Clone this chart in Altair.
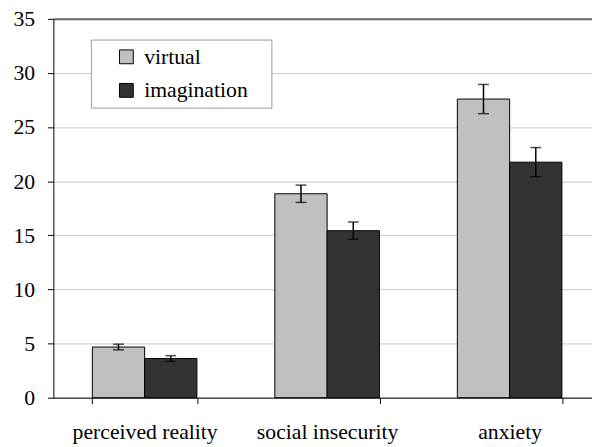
import altair as alt
import pandas as pd

categories = ["perceived reality", "social insecurity", "anxiety"]
groups = ["virtual", "imagination"]
virtual = [4.68, 18.84, 27.59]
imagination = [3.62, 15.43, 21.76]
virtual_err = [0.26, 0.80, 1.35]
imagination_err = [0.26, 0.80, 1.35]
colors = ["#c0c0c0", "#333333"]
y_ticks = [0, 5, 10, 15, 20, 25, 30, 35]

rows = []
for i, c in enumerate(categories):
    rows.append({"category": c, "group": "virtual", "value": virtual[i],
                 "lo": virtual[i] - virtual_err[i], "hi": virtual[i] + virtual_err[i]})
    rows.append({"category": c, "group": "imagination", "value": imagination[i],
                 "lo": imagination[i] - imagination_err[i], "hi": imagination[i] + imagination_err[i]})
df = pd.DataFrame(rows)

FONT = "'Liberation Serif', 'DejaVu Serif', serif"

x_enc = alt.X("category:N", sort=categories, title=None,
              scale=alt.Scale(range=[0, 555], paddingInner=0.427, paddingOuter=0.2135),
              axis=alt.Axis(labelAngle=0, tickBand="extent", tickSize=6, tickColor="black",
                            domainColor="black", labelFontSize=22, labelFont=FONT,
                            labelColor="black", labelBaseline="alphabetic", labelPadding=35,
                            grid=False))
xoff = alt.XOffset("group:N", sort=groups, scale=alt.Scale(paddingInner=0, paddingOuter=0))

y_scale = alt.Scale(domain=[0, 35], nice=False)
y_axis = alt.Axis(values=y_ticks, title=None, tickSize=6, tickColor="black", domainColor="black",
                  labelFontSize=22, labelFont=FONT, labelColor="black", labelPadding=13,
                  grid=True,
                  gridColor={"condition": {"test": "datum.value === 35", "value": "#666666"}, "value": "#c8c8c8"},
                  gridWidth={"condition": {"test": "datum.value === 35", "value": 2}, "value": 1})

base = alt.Chart(df)

bars = base.mark_bar(stroke="black", strokeWidth=1).encode(
    x=x_enc,
    xOffset=xoff,
    y=alt.Y("value:Q", scale=y_scale, axis=y_axis),
    color=alt.Color("group:N", sort=groups,
                    scale=alt.Scale(domain=groups, range=colors),
                    legend=alt.Legend(title="ii", titleOrient="right", titlePadding=4,
                                      titleFontSize=22, titleFont=FONT,
                                      titleColor="rgba(0,0,0,0)",
                                      orient="none", legendX=38, legendY=21,
                                      symbolType="square", symbolSize=196,
                                      symbolStrokeColor="black", symbolStrokeWidth=1,
                                      labelFontSize=22, labelFont=FONT, labelColor="black",
                                      labelOffset=7, rowPadding=12, padding=6.5,
                                      symbolOffset=18.5,
                                      strokeColor="#999999", fillColor="white")),
)

rules = base.mark_rule(color="black", strokeWidth=1.5).encode(
    x=alt.X("category:N", sort=categories),
    xOffset=xoff,
    y="lo:Q",
    y2="hi:Q",
)

caps_hi = base.mark_tick(color="black", thickness=1.5, size=11, orient="horizontal").encode(
    x=alt.X("category:N", sort=categories),
    xOffset=xoff,
    y="hi:Q",
)
caps_lo = base.mark_tick(color="black", thickness=1.5, size=11, orient="horizontal").encode(
    x=alt.X("category:N", sort=categories),
    xOffset=xoff,
    y="lo:Q",
)

chart = alt.layer(bars, rules, caps_hi, caps_lo).properties(
    width=546, height=384,
    autosize=alt.AutoSizeParams(type="none"),
    padding={"left": 46, "top": 8, "right": 0, "bottom": 47},
).configure(font=FONT).configure_view(stroke=None)

chart.save("out.html", embed_options={"renderer": "svg", "actions": False})
